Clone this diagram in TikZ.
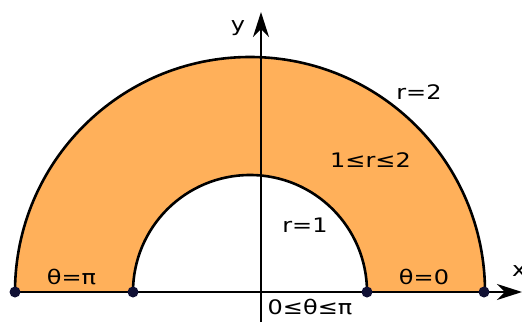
\documentclass[tikz,border=0pt]{standalone}
\usepackage{fontspec}
\setmainfont{DejaVu Sans}
\newfontfamily\lblfont[FakeStretch=1.2]{DejaVu Sans}
\usetikzlibrary{arrows.meta}
\definecolor{fillor}{RGB}{255,176,90}
\definecolor{dotc}{RGB}{16,16,52}
\begin{document}
\begin{tikzpicture}[x=1pt,y=1pt,
  lbl/.style={font=\lblfont\fontsize{20}{24}\selectfont,inner sep=0pt},
  dotn/.style={circle,fill=dotc,inner sep=0pt,minimum size=11pt},
  axis/.style={line width=1.7pt,-{Stealth[length=25pt,width=16pt,inset=8pt]}}]
\useasboundingbox (0,0) rectangle (522,322);
% region
\fill[fillor] (15,30) arc[start angle=180,end angle=0,radius=235] -- (367,30) arc[start angle=0,end angle=180,radius=117] -- cycle;
% axes
\coordinate (xs) at (15,30);
\coordinate (xe) at (522,30);
\coordinate (ys) at (261,0);
\coordinate (ye) at (261,310);
\draw[axis] (xs) -- (xe);
\draw[axis] (ys) -- (ye);
% arcs
\draw[line width=2.6pt] (15,30) arc[start angle=180,end angle=0,radius=235];
\draw[line width=2.6pt] (133,30) arc[start angle=180,end angle=0,radius=117];
% dots
\node[dotn] (d1) at (15,30) {};
\node[dotn] (d2) at (133,30) {};
\node[dotn] (d3) at (367,30) {};
\node[dotn] (d4) at (484,30) {};
% labels
\node[lbl] (ly) at (238,294) {y};
\node[lbl,anchor=west] (lx) at (512,51) {x};
\node[lbl] (r2) at (419,230) {r=2};
\node[lbl] (r12) at (370.5,162) {1≤r≤2};
\node[lbl] (r1) at (305,96.5) {r=1};
\node[lbl] (tpi) at (71.5,45) {θ=π};
\node[lbl] (t0) at (424,45) {θ=0};
\node[lbl] (tr) at (310,15) {0≤θ≤π};
\end{tikzpicture}
\end{document}
